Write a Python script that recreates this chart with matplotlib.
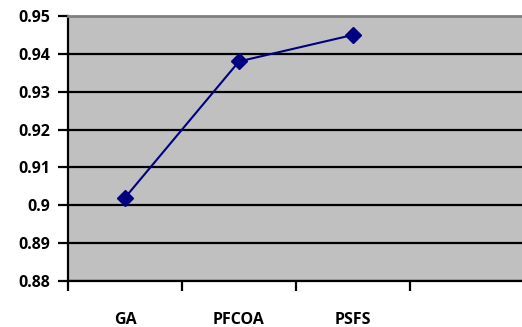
import matplotlib.pyplot as plt

# data
methods = ["GA", "PFCOA", "PSFS", ""]
scores = [0.902, 0.938, 0.945]
yticks = [0.88, 0.89, 0.90, 0.91, 0.92, 0.93, 0.94, 0.95]
ylabels = ["0.88", "0.89", "0.9", "0.91", "0.92", "0.93", "0.94", "0.95"]

plt.rcParams['font.family'] = ['Open Sans', 'DejaVu Sans']

fig = plt.figure(figsize=(5.22, 3.27), dpi=100)
ax = fig.add_axes([68 / 522, 46 / 327, 456 / 522, 265 / 327])
ax.set_facecolor("#c0c0c0")

ax.plot(range(len(scores)), scores, color="#000080", linewidth=1.5,
        marker="D", markersize=8, zorder=3)

ax.set_xlim(-0.5, len(methods) - 0.5)
ax.set_ylim(0.88, 0.95)

ax.set_yticks(yticks)
ax.set_yticklabels(ylabels, fontsize=11.5, fontweight="bold")
ax.grid(axis="y", color="black", linewidth=1.6, zorder=1)

ax.set_xticks(range(len(methods)))
ax.set_xticklabels(methods, fontsize=11.5, fontweight="bold")
ax.tick_params(axis="x", which="major", length=0, pad=22)
ax.set_xticks([i - 0.5 for i in range(len(methods) + 1)], minor=True)
ax.tick_params(axis="x", which="minor", length=7, width=1.6, direction="out")
ax.tick_params(axis="y", length=7, width=1.6, pad=6)

for side in ["left", "bottom"]:
    ax.spines[side].set_color("black")
    ax.spines[side].set_linewidth(1.6)
ax.spines["top"].set_color("#808080")
ax.spines["top"].set_linewidth(2)
ax.spines["right"].set_visible(False)

fig.savefig("out.png", dpi=100)
